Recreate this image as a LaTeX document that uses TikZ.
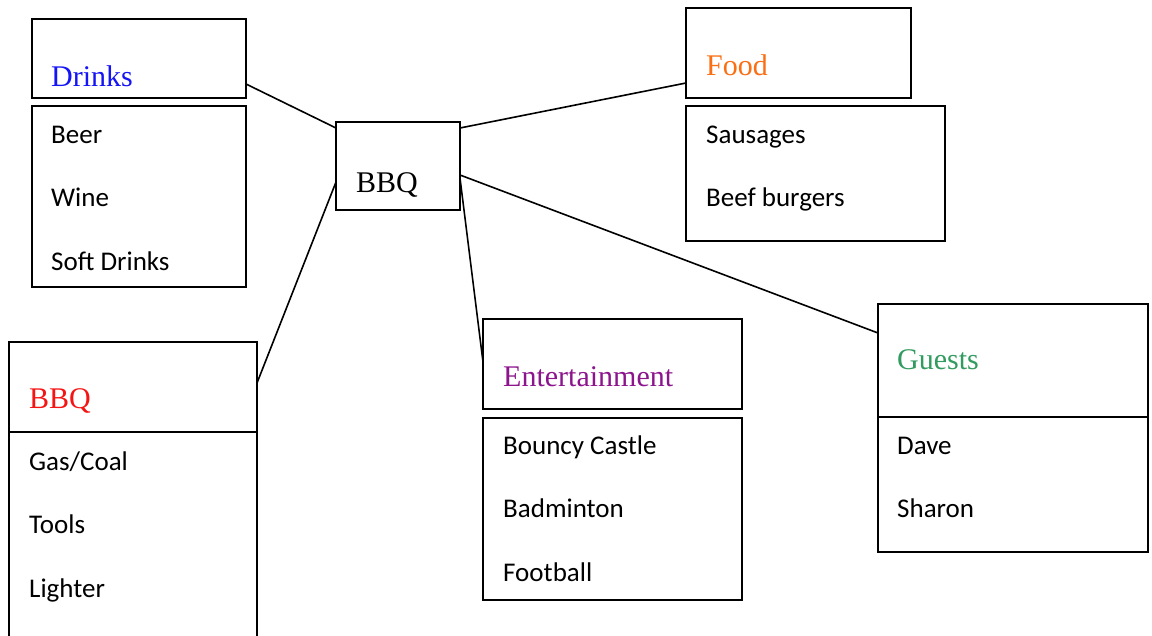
\documentclass[tikz,border=0pt]{standalone}
\usepackage{fontspec}
\setmainfont{Carlito}
\newfontfamily\titlefont{Liberation Serif}
\definecolor{cDrinks}{RGB}{20,20,245}
\definecolor{cFood}{RGB}{250,110,20}
\definecolor{cBBQ}{RGB}{245,20,20}
\definecolor{cEnt}{RGB}{140,20,140}
\definecolor{cGuest}{RGB}{50,155,95}
\begin{document}
\begin{tikzpicture}[x=1pt,y=-1pt,
  box/.style={draw, line width=1.6pt, inner sep=0pt, outer sep=0pt, anchor=north west},
  item/.style={anchor=base west, inner sep=0pt, font=\fontsize{27}{30}\selectfont},
  ttl/.style={anchor=base west, inner sep=0pt, font=\titlefont\fontsize{30}{33}\selectfont},
  link/.style={line width=1.6pt}]
\useasboundingbox (0,0) rectangle (1152,635);
% boxes
\node[box, minimum width=214pt, minimum height=79pt] (drinksT) at (32,19) {};
\node[box, minimum width=214pt, minimum height=181pt] (drinksL) at (32,106) {};
\node[box, minimum width=124pt, minimum height=88pt] (center) at (336,122) {};
\node[box, minimum width=225pt, minimum height=90pt] (foodT) at (686,8) {};
\node[box, minimum width=259pt, minimum height=135pt] (foodL) at (686,106) {};
\node[box, minimum width=248pt, minimum height=90pt] (bbqT) at (9,342) {};
\node[box, minimum width=248pt, minimum height=220pt] (bbqL) at (9,432) {};
\node[box, minimum width=259pt, minimum height=90pt] (entT) at (483,319) {};
\node[box, minimum width=259pt, minimum height=182pt] (entL) at (483,418) {};
\node[box, minimum width=270pt, minimum height=113pt] (guestT) at (878,304) {};
\node[box, minimum width=270pt, minimum height=135pt] (guestL) at (878,417) {};
% titles
\node[ttl, text=cDrinks] (tDrinks) at (51,86) {Drinks};
\node[ttl] (tCenter) at (356,192) {BBQ};
\node[ttl, text=cFood] (tFood) at (706,75) {Food};
\node[ttl, text=cBBQ] (tBBQ) at (29,408) {BBQ};
\node[ttl, text=cEnt] (tEnt) at (503,386) {Entertainment};
\node[ttl, text=cGuest] (tGuest) at (897,369) {Guests};
% items
\node[item] (i1) at (51,143) {Beer};
\node[item] (i2) at (51,206) {Wine};
\node[item] (i3) at (51,270) {Soft Drinks};
\node[item] (i4) at (706,143) {Sausages};
\node[item] (i5) at (706,206) {Beef burgers};
\node[item] (i6) at (29,470) {Gas/Coal};
\node[item] (i7) at (29,533) {Tools};
\node[item] (i8) at (29,597) {Lighter};
\node[item] (i9) at (503,454) {Bouncy Castle};
\node[item] (i10) at (503,517) {Badminton};
\node[item] (i11) at (503,581) {Football};
\node[item] (i12) at (897,454) {Dave};
\node[item] (i13) at (897,517) {Sharon};
% connectors
\draw[link] ([yshift=14pt]drinksT.south east) -- ([yshift=-6pt]center.north west);
\draw[link] ([yshift=15pt]foodT.south west) -- ([yshift=-6pt]center.north east);
\draw[link] ([yshift=49pt]bbqT.south east) -- ([yshift=28pt]center.south west);
\draw[link] ([yshift=47pt]entT.south west) -- ([yshift=32pt]center.south east);
\draw[link] ([yshift=-29pt]guestT.north west) -- ([yshift=35pt]center.south east);
\end{tikzpicture}
\end{document}
